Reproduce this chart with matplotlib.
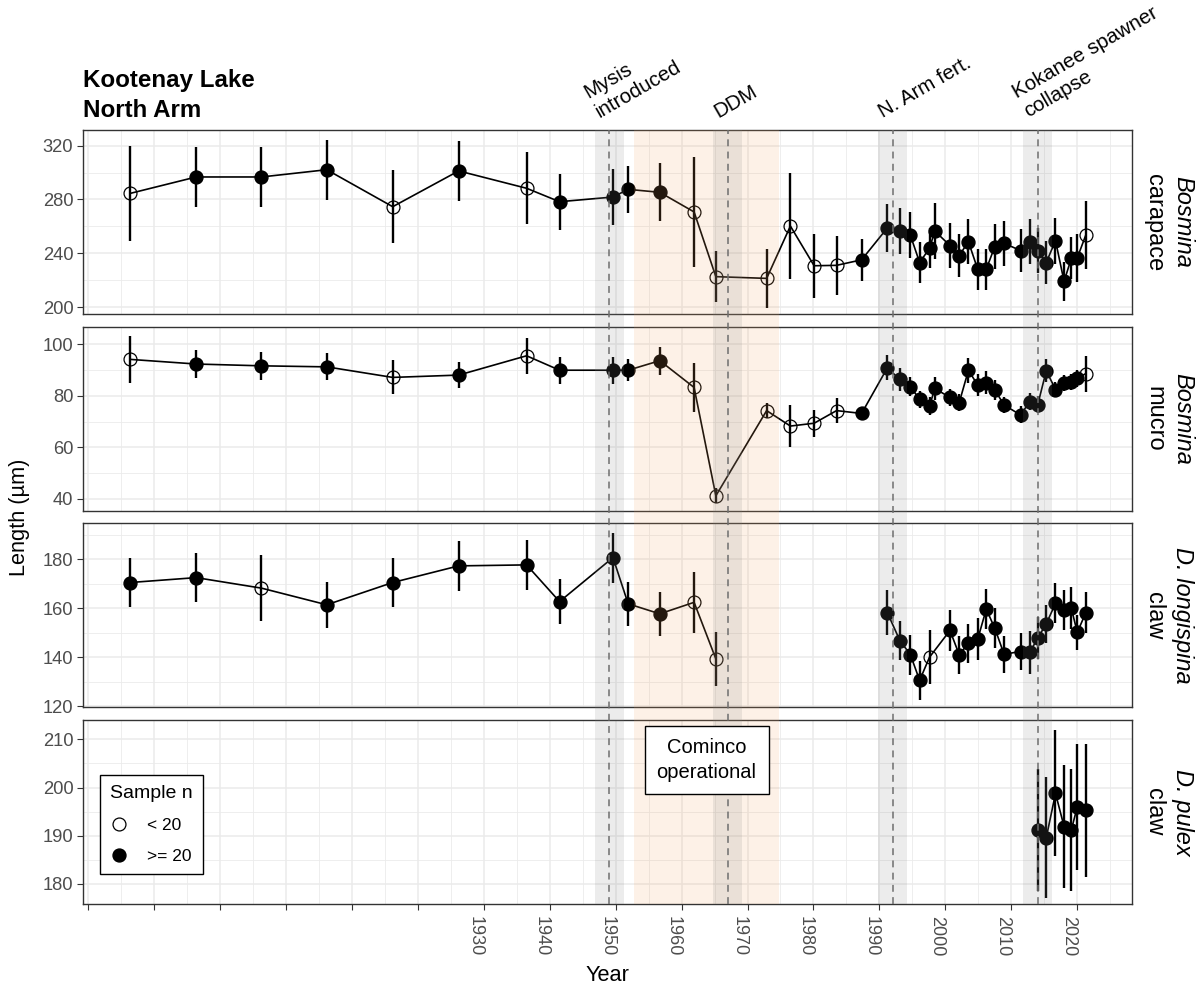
import numpy as np
import matplotlib
matplotlib.use("Agg")
import matplotlib.pyplot as plt
from matplotlib.lines import Line2D
from matplotlib.ticker import MultipleLocator

plt.rcParams['font.family'] = ['Liberation Sans', 'DejaVu Sans']

nan = np.nan

# mid-point ages (years CE) of the core intervals shared by the series
sample_year = [1876.4, 1886.4, 1896.3, 1906.2, 1916.2, 1926.2, 1936.5, 1941.5,
               1949.6, 1951.9, 1956.7, 1961.9, 1965.2, 1972.9, 1976.5, 1980.1,
               1983.5, 1987.3, 1991.2, 1993.1, 1994.7, 1996.1, 1997.6, 1998.4,
               2000.7, 2002.1, 2003.5, 2004.9, 2006.2, 2007.5, 2008.9, 2011.4,
               2012.8, 2014.0, 2015.3, 2016.7, 2018.0, 2019.1, 2020.0, 2021.3]

# 1 = fewer than 20 individuals measured
bosmina_small_n = [1, 0, 0, 0, 1, 0, 1, 0,
                   0, 0, 0, 1, 1, 1, 1, 1,
                   1, 0, 0, 0, 0, 0, 0, 0,
                   0, 0, 0, 0, 0, 0, 0, 0,
                   0, 0, 0, 0, 0, 0, 0, 1]

carapace_mean = [284.5, 296.7, 296.7, 302.1, 274.6, 301.2, 288.3, 278.3,
                 281.8, 287.5, 285.3, 270.7, 222.6, 221.3, 260.2, 230.7,
                 231.0, 235.1, 258.8, 256.5, 253.3, 233.1, 243.7, 256.5,
                 245.7, 238.3, 248.6, 228.1, 228.1, 245.0, 247.4, 242.0,
                 248.6, 242.0, 233.1, 249.4, 219.0, 236.3, 236.5, 253.6]
carapace_err = [35.2, 22.0, 22.0, 22.4, 27.3, 22.2, 26.7, 20.7,
                20.7, 17.6, 21.5, 41.2, 19.0, 22.1, 39.6, 23.8,
                21.7, 15.7, 17.7, 17.3, 17.2, 15.4, 14.8, 20.8,
                16.6, 16.1, 16.7, 15.2, 15.4, 16.7, 16.9, 16.1,
                16.7, 16.4, 16.1, 17.1, 14.2, 15.7, 18.0, 25.0]

mucro_mean = [94.2, 92.4, 91.7, 91.3, 87.2, 88.1, 95.6, 90.0,
              90.0, 90.0, 93.7, 83.3, 41.2, 74.3, 68.3, 69.4,
              74.3, 73.2, 90.9, 86.4, 83.6, 78.7, 76.1, 82.9,
              79.4, 77.4, 90.0, 84.2, 85.1, 82.3, 76.5, 72.6,
              77.8, 76.5, 89.8, 82.5, 85.1, 85.5, 86.8, 88.7]
mucro_err = [9.0, 5.3, 5.4, 5.3, 6.6, 5.2, 6.9, 5.2,
             5.2, 4.2, 5.5, 9.6, 2.9, 3.0, 8.0, 5.2,
             4.8, 2.6, 4.9, 4.4, 3.6, 3.4, 3.5, 4.6,
             3.4, 3.4, 4.8, 4.4, 4.4, 3.9, 3.0, 3.3,
             3.4, 3.3, 4.4, 3.0, 3.0, 3.0, 3.2, 7.0]

# nan = interval counted but no claws (breaks the line), None = interval not analysed
longispina_mean = [170.5, 172.5, 168.2, 161.4, 170.5, 177.3, 177.7, 162.7,
                   180.7, 161.8, 157.7, 162.4, 139.3, nan, nan, nan,
                   nan, nan, 158.2, 146.8, 141.0, 130.5, 140.0, None,
                   150.9, 141.0, 145.7, 147.3, 159.6, 151.8, 141.2, 142.3,
                   141.9, 147.8, 153.6, 162.0, 159.3, 160.0, 150.1, 158.2]
longispina_err = [9.9, 10.0, 13.6, 9.4, 9.9, 10.2, 10.2, 9.3,
                  10.2, 8.9, 9.1, 12.5, 11.1, nan, nan, nan,
                  nan, nan, 9.2, 7.9, 8.2, 8.0, 11.1, None,
                  8.5, 7.7, 7.9, 8.5, 8.3, 8.2, 7.5, 7.5,
                  8.9, 8.5, 7.8, 8.2, 8.3, 8.5, 7.0, 8.4]
longispina_small_n = [0, 0, 1, 0, 0, 0, 0, 0,
                      0, 0, 0, 1, 1, 0, 0, 0,
                      0, 0, 0, 0, 0, 0, 1, 0,
                      0, 0, 0, 0, 0, 0, 0, 0,
                      0, 0, 0, 0, 0, 0, 0, 0]

pulex_year = [2014.0, 2015.3, 2016.7, 2018.0, 2019.1, 2020.0, 2021.3]
pulex_mean = [191.2, 189.6, 198.8, 191.9, 191.2, 196.0, 195.3]
pulex_err = [12.6, 12.6, 13.1, 12.7, 12.7, 13.0, 13.8]
pulex_small_n = [0, 0, 0, 0, 0, 0, 0]

# management / ecological events
event_year = [1949, 1967, 1992, 2014]
event_label = ['Mysis\nintroduced', 'DDM', 'N. Arm fert.', 'Kokanee spawner\ncollapse']
event_window = 2.2
cominco_start, cominco_end = 1952.8, 1974.8

panels = [
    dict(year=sample_year, mean=carapace_mean, err=carapace_err, small=bosmina_small_n,
         taxon='Bosmina', part='carapace', ylim=(194.6, 331.4),
         yticks=[200, 240, 280, 320], yminor=20),
    dict(year=sample_year, mean=mucro_mean, err=mucro_err, small=bosmina_small_n,
         taxon='Bosmina', part='mucro', ylim=(35.3, 106.9),
         yticks=[40, 60, 80, 100], yminor=10),
    dict(year=sample_year, mean=longispina_mean, err=longispina_err, small=longispina_small_n,
         taxon='D. longispina', part='claw', ylim=(119.5, 194.7),
         yticks=[120, 140, 160, 180], yminor=10),
    dict(year=pulex_year, mean=pulex_mean, err=pulex_err, small=pulex_small_n,
         taxon='D. pulex', part='claw', ylim=(175.85, 214.0),
         yticks=[180, 190, 200, 210], yminor=5),
]

W, H = 1201, 988
XLIM = (1869.3, 2028.3)
left_px, right_px = 83.4, 1132.0
panel_px = [(130.3, 314.3), (326.7, 511.0), (523.3, 707.3), (720.0, 904.0)]

fig = plt.figure(figsize=(W / 100, H / 100), dpi=100)


def draw_series(ax, years, mean, err, small):
    keep = [m is not None for m in mean]
    x = np.array([v for v, k in zip(years, keep) if k], float)
    m = np.array([v for v, k in zip(mean, keep) if k], float)
    e = np.array([v for v, k in zip(err, keep) if k], float)
    s = np.array([v for v, k in zip(small, keep) if k], bool)
    ok = ~np.isnan(m)
    ax.plot(x, m, color='black', lw=1.2, zorder=3)
    ax.vlines(x[ok], (m - e)[ok], (m + e)[ok], color='black', lw=1.7, zorder=3)
    ax.plot(x[ok & ~s], m[ok & ~s], 'o', ms=9.3, color='black', zorder=4)
    ax.plot(x[ok & s], m[ok & s], 'o', ms=9.3, mfc='none', mec='black', mew=0.9, zorder=4)


axes = []
for i, p in enumerate(panels):
    top, bot = panel_px[i]
    ax = fig.add_axes([left_px / W, 1 - bot / H, (right_px - left_px) / W, (bot - top) / H])
    axes.append(ax)
    draw_series(ax, p['year'], p['mean'], p['err'], p['small'])
    ax.set_xlim(*XLIM)
    ax.set_ylim(*p['ylim'])
    ax.set_yticks(p['yticks'])
    ax.yaxis.set_minor_locator(MultipleLocator(p['yminor']))
    ax.set_xticks(range(1870, 2021, 10))
    ax.xaxis.set_minor_locator(MultipleLocator(5))
    ax.set_axisbelow(True)
    ax.grid(True, which='major', color='#EBEBEB', lw=1.1)
    ax.grid(True, which='minor', color='#EBEBEB', lw=0.6)
    for sp in ax.spines.values():
        sp.set_color('#333333')
        sp.set_linewidth(1.0)
    ax.tick_params(which='major', length=4.3, width=0.8, color='#333333',
                   labelcolor='#4D4D4D', labelsize=13.2, pad=3)
    ax.tick_params(which='minor', length=0)
    if i < 3:
        ax.tick_params(axis='x', which='both', length=0, labelbottom=False)
    ax.text(1.0486, 0.5, p['taxon'], style='italic', rotation=-90, size=17,
            ha='center', va='center', transform=ax.transAxes)
    ax.text(1.0210, 0.5, p['part'], rotation=-90, size=17,
            ha='center', va='center', transform=ax.transAxes)

ax4 = axes[-1]
ax4.set_xticklabels([str(y) if y >= 1930 else '' for y in range(1870, 2021, 10)],
                    rotation=-90, ha='left', va='top', rotation_mode='anchor')
ax4.tick_params(axis='x', pad=4.5, labelsize=13)

handles = [Line2D([], [], ls='none', marker='o', ms=9.3, mfc='none', mec='black', mew=0.9),
           Line2D([], [], ls='none', marker='o', ms=9.3, color='black')]
leg = ax4.legend(handles, ['< 20', '>= 20'], title='Sample n', loc='lower left',
                 bbox_to_anchor=(0.0158, 0.163), frameon=True, fancybox=False,
                 edgecolor='black', framealpha=1, fontsize=12.5, title_fontsize=14,
                 alignment='left', handlelength=1.0, handletextpad=1.1,
                 borderpad=0.6, labelspacing=0.9, borderaxespad=0)
leg.get_frame().set_linewidth(1.0)

# overlay spanning all panels for event windows, Cominco period and labels
ov_top, ov_bot = panel_px[0][0], panel_px[-1][1]
ov = fig.add_axes([left_px / W, 1 - ov_bot / H, (right_px - left_px) / W, (ov_bot - ov_top) / H])
ov.set_xlim(*XLIM)
ov.set_ylim(0, 1)
ov.axis('off')
ov.axvspan(cominco_start, cominco_end, color='#F4A460', alpha=0.15, lw=0, zorder=1)
for yr, lab in zip(event_year, event_label):
    ov.axvspan(yr - event_window, yr + event_window, color='#808080', alpha=0.15, lw=0, zorder=2)
    ov.axvline(yr, color='#6E6E6E', lw=1.1, ls=(0, (4.5, 3.5)), zorder=3)
    ov.annotate(lab, xy=(yr, 1.0), xycoords=('data', 'axes fraction'),
                xytext=(-5.5, 6.5), textcoords='offset points', rotation=30,
                rotation_mode='anchor', ha='left', va='bottom', size=14.8,
                linespacing=1.25, annotation_clip=False)

ov.text((cominco_start + cominco_end) / 2, 1 - (760 - ov_top) / (ov_bot - ov_top),
        'Cominco\noperational', ha='center', va='center', size=14.5, linespacing=1.35,
        multialignment='center', zorder=6,
        bbox=dict(boxstyle='square,pad=0.6', fc='white', ec='black', lw=1.0))

fig.text(left_px / W, 1 - 69 / H, 'Kootenay Lake\nNorth Arm', ha='left', va='top',
         size=17.4, fontweight='bold', linespacing=1.4)
fig.text(19.5 / W, 1 - 517 / H, 'Length (µm)', rotation=90, ha='center', va='center', size=15.7)
fig.text((left_px + right_px) / 2 / W, 1 - 975 / H, 'Year', ha='center', va='center', size=15.7)

fig.savefig('out.png', dpi=100)
